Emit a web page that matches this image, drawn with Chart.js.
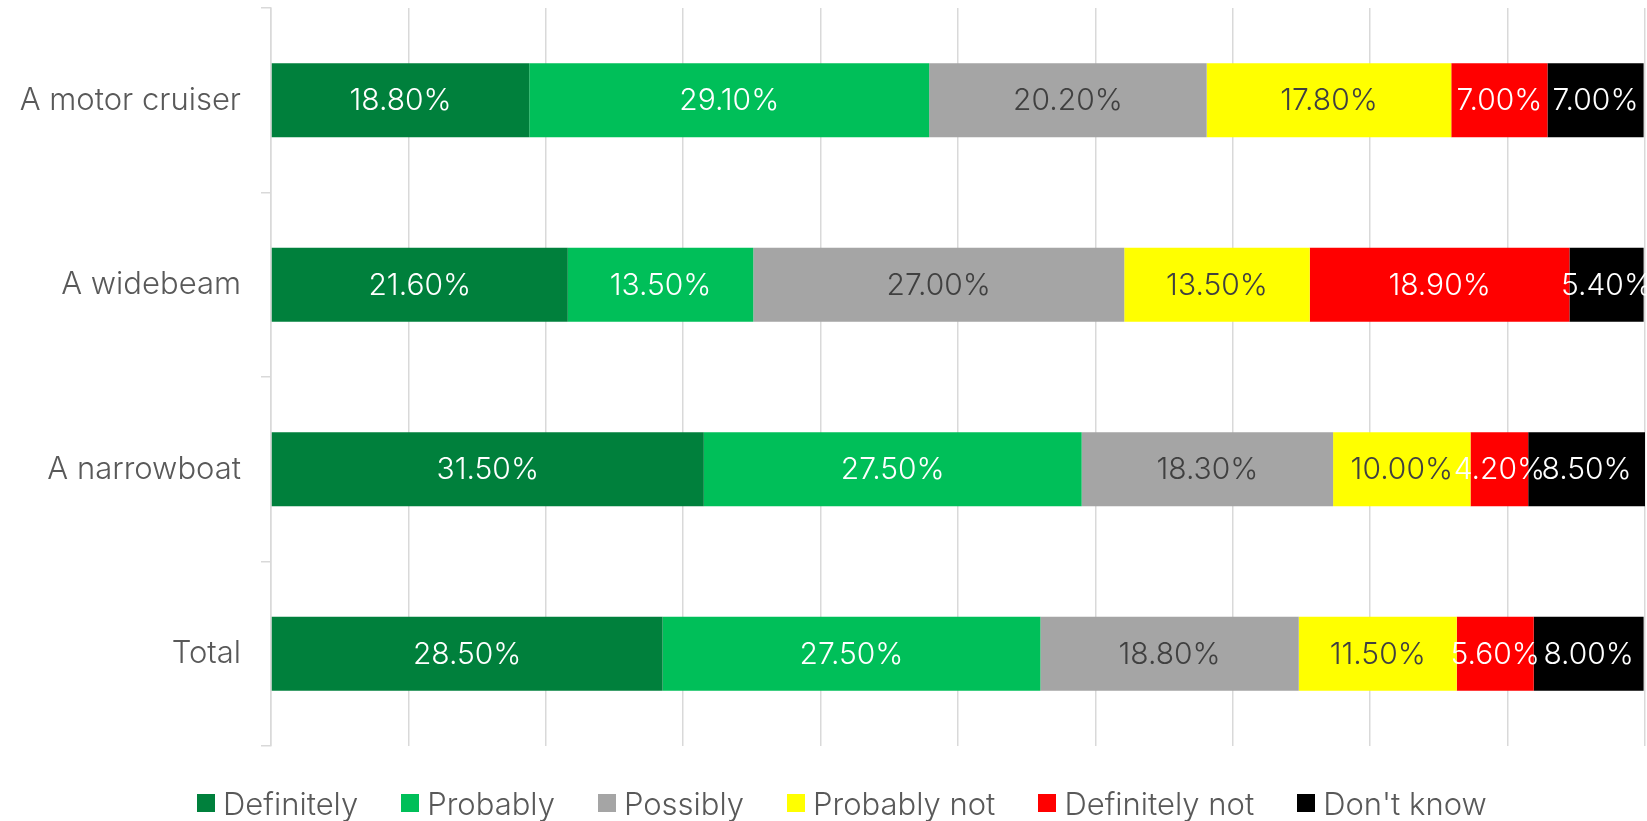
<!DOCTYPE html>
<html>
<head>
<meta charset="utf-8">
<script src="https://cdn.jsdelivr.net/npm/chart.js@4.4.1/dist/chart.umd.min.js"></script>
<style>
    html, body { margin: 0; padding: 0; background: #fff; }
    #wrap { position: relative; width: 1647px; height: 821px; }
    #legend {
        position: absolute; left: 197px; top: 783px; height: 40px;
        display: flex; gap: 43px; align-items: center;
        font-family: 'Inter', sans-serif; font-weight: 300; font-size: 31px; color: #595959;
    }
    .item { display: flex; align-items: center; }
    .box { width: 18px; height: 18px; margin-right: 8px; }
</style>
</head>
<body>
<div id="wrap">
    <canvas id="surveyChart" width="1647" height="821"></canvas>
    <div id="legend"></div>
</div>
<script>
// Survey answers, percent of respondents
const categories = ['A motor cruiser', 'A widebeam', 'A narrowboat', 'Total'];
const seriesNames = ['Definitely', 'Probably', 'Possibly', 'Probably not', 'Definitely not', "Don't know"];

const definitely = [18.8, 21.6, 31.5, 28.5];
const probably = [29.1, 13.5, 27.5, 27.5];
const possibly = [20.2, 27.0, 18.3, 18.8];
const probablyNot = [17.8, 13.5, 10.0, 11.5];
const definitelyNot = [7.0, 18.9, 4.2, 5.6];
const dontKnow = [7.0, 5.4, 8.5, 8.0];

const seriesColors = ['#00803c', '#00bf59', '#a5a5a5', '#ffff00', '#ff0000', '#000000'];
const labelColors = ['#ffffff', '#ffffff', '#404040', '#404040', '#ffffff', '#ffffff'];

const allSeries = [definitely, probably, possibly, probablyNot, definitelyNot, dontKnow];

// draws the value in the middle of every bar segment
const barLabels = {
    id: 'barLabels',
    afterDatasetsDraw(chart) {
        const ctx = chart.ctx;
        ctx.save();
        ctx.font = '300 30px Inter, sans-serif';
        ctx.textAlign = 'center';
        ctx.textBaseline = 'middle';
        chart.data.datasets.forEach((ds, i) => {
            const meta = chart.getDatasetMeta(i);
            meta.data.forEach((bar, j) => {
                const p = bar.getCenterPoint();
                ctx.fillStyle = labelColors[i];
                ctx.fillText(ds.data[j].toFixed(2) + '%', p.x, p.y + 1);
            });
        });
        ctx.restore();
    }
};

const ctx = document.getElementById('surveyChart').getContext('2d');
const surveyChart = new Chart(ctx, {
    type: 'bar',
    data: {
        labels: categories,
        datasets: allSeries.map((values, i) => ({
            label: seriesNames[i],
            data: values,
            backgroundColor: seriesColors[i],
            borderWidth: 0,
            barPercentage: 0.4,
            categoryPercentage: 1
        }))
    },
    options: {
        indexAxis: 'y',
        responsive: false,
        animation: false,
        layout: { padding: { top: 8, right: 2, bottom: 75, left: 0 } },
        plugins: {
            legend: { display: false },
            tooltip: { enabled: false }
        },
        scales: {
            x: {
                stacked: true,
                min: 0,
                max: 100,
                ticks: { display: false, stepSize: 10 },
                grid: { color: '#d9d9d9', lineWidth: 1.5, drawTicks: false },
                border: { display: false }
            },
            y: {
                stacked: true,
                afterFit: scale => {
                    scale.width = 271;
                    scale.paddingTop = 0;
                    scale.paddingBottom = 0;
                },
                ticks: {
                    color: '#595959',
                    font: { family: 'Inter', size: 31, weight: 300 },
                    padding: 20
                },
                grid: { drawOnChartArea: false, color: '#d9d9d9', lineWidth: 1.5, tickLength: 10 },
                border: { color: '#d9d9d9', width: 1.5 }
            }
        }
    },
    plugins: [barLabels]
});

// HTML legend built from the datasets
const legendEl = document.getElementById('legend');
surveyChart.data.datasets.forEach(ds => {
    const item = document.createElement('div');
    item.className = 'item';
    item.innerHTML = `<span class="box" style="background:${ds.backgroundColor}"></span><span>${ds.label}</span>`;
    legendEl.appendChild(item);
});
</script>
</body>
</html>
